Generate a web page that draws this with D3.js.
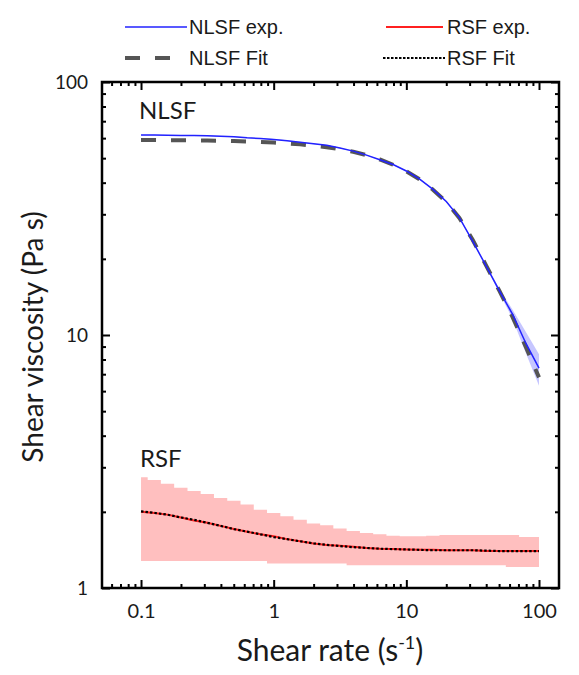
<!DOCTYPE html>
<html>
<head>
<meta charset="utf-8">
<script src="https://cdn.jsdelivr.net/npm/d3@7"></script>
<style>
  body { margin: 0; background: #fff; }
  text { fill: #1a1a1a; }
</style>
</head>
<body>
<div id="chart"></div>
<script>
// shear rate points (1/s)
const shearRate = [0.1, 0.126, 0.158, 0.2, 0.251, 0.316, 0.398, 0.501, 0.631, 0.794,
  1, 1.26, 1.58, 2, 2.51, 3.16, 3.98, 5.01, 6.31, 7.94,
  10, 12.6, 15.8, 20, 25.1, 31.6, 39.8, 50.1, 63.1, 79.4, 100]

const nlsfExp = [61.7, 61.7, 61.6, 61.5, 61.4, 61.3, 61.0, 60.8, 60.2, 59.8,
  59.3, 58.6, 57.8, 57.0, 56.2, 54.8, 53.3, 51.4, 49.3, 47.2,
  44.5, 41.3, 37.7, 33.7, 29.1, 23.5, 18.8, 15.0, 12.1, 9.3, 7.4]
const nlsfUpper = [61.9, 61.9, 61.8, 61.7, 61.6, 61.5, 61.2, 61.0, 60.4, 60.0,
  59.5, 58.8, 58.0, 57.2, 56.4, 55.0, 53.5, 51.6, 49.5, 47.4,
  44.7, 41.5, 37.9, 33.9, 29.3, 23.7, 19.0, 15.3, 12.6, 10.3, 8.4]
const nlsfLower = [61.5, 61.5, 61.4, 61.3, 61.2, 61.1, 60.8, 60.6, 60.0, 59.6,
  59.1, 58.4, 57.6, 56.8, 56.0, 54.6, 53.1, 51.2, 49.1, 47.0,
  44.3, 41.1, 37.5, 33.5, 28.9, 23.3, 18.6, 14.7, 11.6, 8.5, 6.3]
const nlsfFit = [59.0, 59.0, 58.9, 58.9, 58.8, 58.7, 58.6, 58.4, 58.2, 57.9,
  57.6, 57.2, 56.7, 56.0, 55.2, 54.2, 53.0, 51.4, 49.4, 47.1,
  44.4, 41.2, 37.6, 33.6, 29.0, 23.8, 18.9, 15.0, 11.8, 9.0, 6.8]

const rsfExp = [2.00, 1.98, 1.95, 1.90, 1.85, 1.81, 1.76, 1.71, 1.67, 1.63,
  1.60, 1.56, 1.53, 1.50, 1.48, 1.47, 1.455, 1.44, 1.43, 1.425,
  1.42, 1.415, 1.415, 1.41, 1.41, 1.41, 1.40, 1.40, 1.40, 1.40, 1.40]
const rsfUpper = [2.74, 2.67, 2.58, 2.49, 2.42, 2.35, 2.27, 2.21, 2.14, 2.04,
  1.98, 1.92, 1.86, 1.80, 1.77, 1.72, 1.68, 1.65, 1.63, 1.61,
  1.60, 1.60, 1.61, 1.62, 1.62, 1.62, 1.62, 1.62, 1.62, 1.59, 1.59]
const rsfLower = [1.28, 1.28, 1.28, 1.28, 1.28, 1.28, 1.28, 1.28, 1.28, 1.28,
  1.25, 1.25, 1.25, 1.25, 1.25, 1.25, 1.23, 1.23, 1.23, 1.23,
  1.23, 1.23, 1.23, 1.23, 1.23, 1.23, 1.23, 1.23, 1.21, 1.21, 1.21]
const rsfFit = [2.01, 1.98, 1.95, 1.90, 1.86, 1.81, 1.76, 1.71, 1.67, 1.63,
  1.59, 1.56, 1.53, 1.50, 1.48, 1.465, 1.45, 1.44, 1.43, 1.425,
  1.42, 1.415, 1.41, 1.41, 1.41, 1.41, 1.405, 1.40, 1.40, 1.40, 1.40]

const xTicks = [0.1, 1, 10, 100]
const yTicks = [1, 10, 100]
const xTickLabels = ['0.1', '1', '10', '100']
const yTickLabels = ['1', '10', '100']

const width = 579, height = 675
const plotLeft = 102, plotRight = 559, plotTop = 82, plotBottom = 588
const labelFont = 'Lato, "Open Sans", sans-serif'
const legendFont = '"Liberation Sans", Arial, sans-serif'

const svg = d3.select('#chart').append('svg')
  .attr('width', width)
  .attr('height', height)

const x = d3.scaleLog().domain([0.0508, 141.5]).range([plotLeft, plotRight])
const y = d3.scaleLog().domain([1, 100]).range([plotBottom, plotTop])

// minor tick values, 2..9 inside each decade
let xMinor = [], yMinor = []
for (let d = 0.01; d <= 100; d *= 10) {
  for (let k = 2; k <= 9; k++) {
    let v = +(d * k).toPrecision(3)
    if (v > x.domain()[0] && v < x.domain()[1]) xMinor.push(v)
    if (v > 1 && v < 100) yMinor.push(v)
  }
}

const pts = (ys) => shearRate.map((s, i) => [s, ys[i]])

// bands
const band = (up, lo, curve) => d3.area()
  .curve(curve)
  .x((d, i) => x(shearRate[i]))
  .y0((d, i) => y(lo[i]))
  .y1((d, i) => y(up[i]))

svg.append('path')
  .attr('d', band(rsfUpper, rsfLower, d3.curveStep)(shearRate))
  .attr('fill', '#ffbfbf')

svg.append('path')
  .attr('d', band(nlsfUpper, nlsfLower, d3.curveLinear)(shearRate))
  .attr('fill', '#b8b8ff')
  .attr('fill-opacity', 0.8)

const line = d3.line().x(d => x(d[0])).y(d => y(d[1]))

// NLSF
svg.append('path')
  .attr('d', line(pts(nlsfFit)))
  .attr('fill', 'none')
  .attr('stroke', '#555')
  .attr('stroke-width', 4)
  .attr('stroke-dasharray', '15,15')

svg.append('path')
  .attr('d', line(pts(nlsfExp)))
  .attr('fill', 'none')
  .attr('stroke', '#2222ff')
  .attr('stroke-width', 1.5)

// RSF
svg.append('path')
  .attr('d', line(pts(rsfExp)))
  .attr('fill', 'none')
  .attr('stroke', '#ff2020')
  .attr('stroke-width', 2)

svg.append('path')
  .attr('d', line(pts(rsfFit)))
  .attr('fill', 'none')
  .attr('stroke', '#000')
  .attr('stroke-width', 2.2)
  .attr('stroke-dasharray', '2.5,2')

// frame
svg.append('rect')
  .attr('x', plotLeft).attr('y', plotTop)
  .attr('width', plotRight - plotLeft).attr('height', plotBottom - plotTop)
  .attr('fill', 'none')
  .attr('stroke', '#000')
  .attr('stroke-width', 2.5)

// axes, ticks pointing inward on all sides
const tickStyle = g => {
  g.select('.domain').remove()
  g.selectAll('line').attr('stroke', '#000').attr('stroke-width', 2)
}

svg.append('g')
  .attr('transform', 'translate(0,' + plotBottom + ')')
  .call(d3.axisBottom(x).tickValues(xTicks).tickSize(-8).tickPadding(16)
    .tickFormat((d, i) => xTickLabels[i]))
  .call(tickStyle)
  .selectAll('text')
  .style('font-family', labelFont)
  .style('font-size', '20px')
  .attr('fill', '#1a1a1a')

svg.append('g')
  .attr('transform', 'translate(0,' + plotBottom + ')')
  .call(d3.axisBottom(x).tickValues(xMinor).tickSize(-4).tickFormat(''))
  .call(tickStyle)

svg.append('g')
  .attr('transform', 'translate(0,' + plotTop + ')')
  .call(d3.axisTop(x).tickValues(xTicks).tickSize(-8).tickFormat(''))
  .call(tickStyle)

svg.append('g')
  .attr('transform', 'translate(0,' + plotTop + ')')
  .call(d3.axisTop(x).tickValues(xMinor).tickSize(-4).tickFormat(''))
  .call(tickStyle)

svg.append('g')
  .attr('transform', 'translate(' + plotLeft + ',0)')
  .call(d3.axisLeft(y).tickValues(yTicks).tickSize(-8).tickPadding(14)
    .tickFormat((d, i) => yTickLabels[i]))
  .call(tickStyle)
  .selectAll('text')
  .style('font-family', labelFont)
  .style('font-size', '19px')
  .attr('fill', '#1a1a1a')

svg.append('g')
  .attr('transform', 'translate(' + plotLeft + ',0)')
  .call(d3.axisLeft(y).tickValues(yMinor).tickSize(-4).tickFormat(''))
  .call(tickStyle)

svg.append('g')
  .attr('transform', 'translate(' + plotRight + ',0)')
  .call(d3.axisRight(y).tickValues(yTicks).tickSize(-8).tickFormat(''))
  .call(tickStyle)

svg.append('g')
  .attr('transform', 'translate(' + plotRight + ',0)')
  .call(d3.axisRight(y).tickValues(yMinor).tickSize(-4).tickFormat(''))
  .call(tickStyle)

// axis titles
const xTitle = svg.append('text')
  .attr('x', 330).attr('y', 661)
  .attr('text-anchor', 'middle')
  .style('font-family', labelFont)
  .style('font-size', '30px')
xTitle.append('tspan').text('Shear rate (s')
xTitle.append('tspan').attr('dy', -12).style('font-size', '18px').text('-1')
xTitle.append('tspan').attr('dy', 12).text(')')

svg.append('text')
  .attr('transform', 'translate(43,337) rotate(-90)')
  .attr('text-anchor', 'middle')
  .style('font-family', labelFont)
  .style('font-size', '28px')
  .text('Shear viscosity (Pa s)')

// sample labels
svg.append('text')
  .attr('x', 139).attr('y', 119)
  .style('font-family', labelFont)
  .style('font-size', '24px')
  .text('NLSF')

svg.append('text')
  .attr('x', 140).attr('y', 467)
  .style('font-family', labelFont)
  .style('font-size', '24px')
  .text('RSF')

// legend
const legendItems = [
  { label: 'NLSF exp.', x: 125, y: 27, color: '#2222ff', width: 1.5, dash: null, len: 62 },
  { label: 'RSF exp.', x: 386, y: 27, color: '#ff2020', width: 2, dash: null, len: 57 },
  { label: 'NLSF Fit', x: 125, y: 58, color: '#555', width: 4, dash: '15,15', len: 50 },
  { label: 'RSF Fit', x: 383, y: 58, color: '#000', width: 2.2, dash: '2.5,1.5', len: 62 }
]

const legend = svg.append('g').attr('class', 'legend')
  .selectAll('g')
  .data(legendItems)
  .enter().append('g')

legend.append('line')
  .attr('x1', d => d.x)
  .attr('x2', d => d.x + d.len)
  .attr('y1', d => d.y)
  .attr('y2', d => d.y)
  .attr('stroke', d => d.color)
  .attr('stroke-width', d => d.width)
  .attr('stroke-dasharray', d => d.dash)

legend.append('text')
  .attr('x', (d, i) => i % 2 ? 447 : 189)
  .attr('y', d => d.y + 7)
  .style('font-family', legendFont)
  .style('font-size', '20px')
  .text(d => d.label)
</script>
</body>
</html>
